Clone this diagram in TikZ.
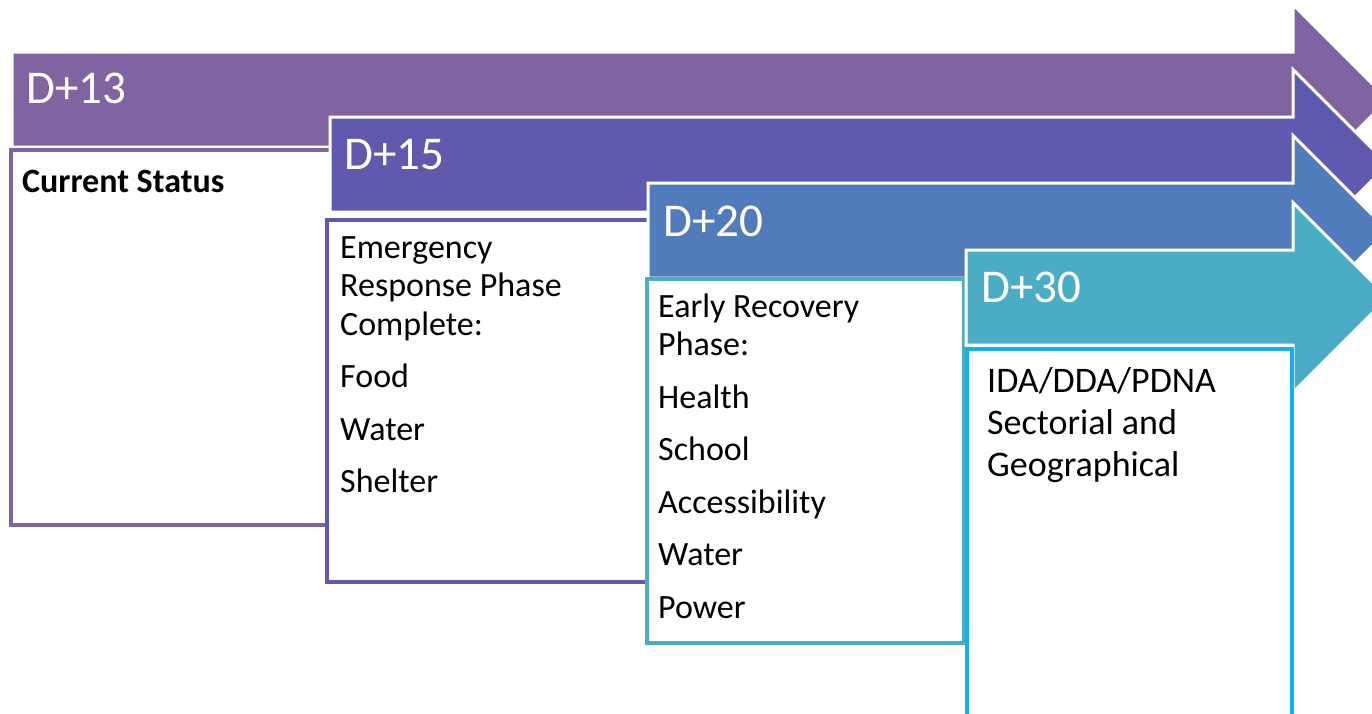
\documentclass[tikz,border=0pt]{standalone}
\usepackage{fontspec}
\setmainfont{Carlito}
\usepackage[dvipsnames]{xcolor}
\usepackage{tikz}

\definecolor{viola}{HTML}{8064A2}
\definecolor{indaco}{HTML}{5F5AAD}
\definecolor{blu}{HTML}{517BBA}
\definecolor{ottanio}{HTML}{4BACC6}
\definecolor{ciano}{HTML}{12B0EE}

\begin{document}
\begin{tikzpicture}[x=1pt, y=-1pt,
		freccia/.style={draw=white, line width=3pt, line join=miter},
		riquadro/.style={draw, line width=4pt, fill=white, anchor=north west, outer sep=0pt, inner sep=0pt},
		etichetta/.style={anchor=base west, inner sep=0pt, text=white, font=\fontsize{47}{56}\selectfont},
		testo/.style={anchor=base west, inner sep=0pt, align=left, text width=290pt, font=\fontsize{34}{38.5}\selectfont,
			execute at begin node={\spaceskip=0pt\xspaceskip=0pt}}]
		\useasboundingbox (0,0) rectangle (1372,713);
		
		% Fase D+13
		\path[freccia, fill=viola] (12,52) -- (1293,52) -- (1293,4.5) -- (1388,99.5) -- (1293,194.5) -- (1293,147) -- (12,147) -- cycle;
		\node[etichetta] (D13) at (26,103) {D+13};
		\node[riquadro, draw=viola, minimum width=690pt, minimum height=375pt] (Stato) at (11,150) {};
		\node[testo, font=\fontsize{34}{38.5}\selectfont\bfseries] (StatoTesto) at (22,192) {Current Status};
		
		% Fase D+15
		\path[freccia, fill=indaco] (330,117) -- (1293,117) -- (1293,69.5) -- (1388,164.5) -- (1293,259.5) -- (1293,212) -- (330,212) -- cycle;
		\node[etichetta] (D15) at (344,169) {D+15};
		\node[riquadro, draw=indaco, minimum width=637pt, minimum height=362pt] (Emergenza) at (327,220) {};
		\node[testo] (EmergenzaTesto) at (340,258) {Emergency\\Response Phase\\Complete:\\[14pt]Food\\[14pt]Water\\[14pt]Shelter};
		
		% Fase D+20
		\path[freccia, fill=blu] (648,183) -- (1293,183) -- (1293,135.5) -- (1388,230.5) -- (1293,325.5) -- (1293,278) -- (648,278) -- cycle;
		\node[etichetta] (D20) at (663,236) {D+20};
		\node[riquadro, draw=ottanio, minimum width=317pt, minimum height=364pt] (Recupero) at (647,279) {};
		\node[testo] (RecuperoTesto) at (658,317) {Early Recovery\\Phase:\\[14pt]Health\\[14pt]School\\[14pt]Accessibility\\[14pt]Water\\[14pt]Power};
		
		% Fase D+30
		\path[freccia, fill=ottanio] (966,250) -- (1293,250) -- (1293,202.5) -- (1388,297.5) -- (1293,392.5) -- (1293,345) -- (966,345) -- cycle;
		\node[etichetta] (D30) at (981,302) {D+30};
		\node[riquadro, draw=ciano, minimum width=325pt, minimum height=400pt] (Valutazione) at (967,349) {};
		\node[testo, font=\fontsize{36}{42}\selectfont] (ValutazioneTesto) at (987,392) {IDA/DDA/PDNA\\Sectorial and\\Geographical};
	\end{tikzpicture}
\end{document}
